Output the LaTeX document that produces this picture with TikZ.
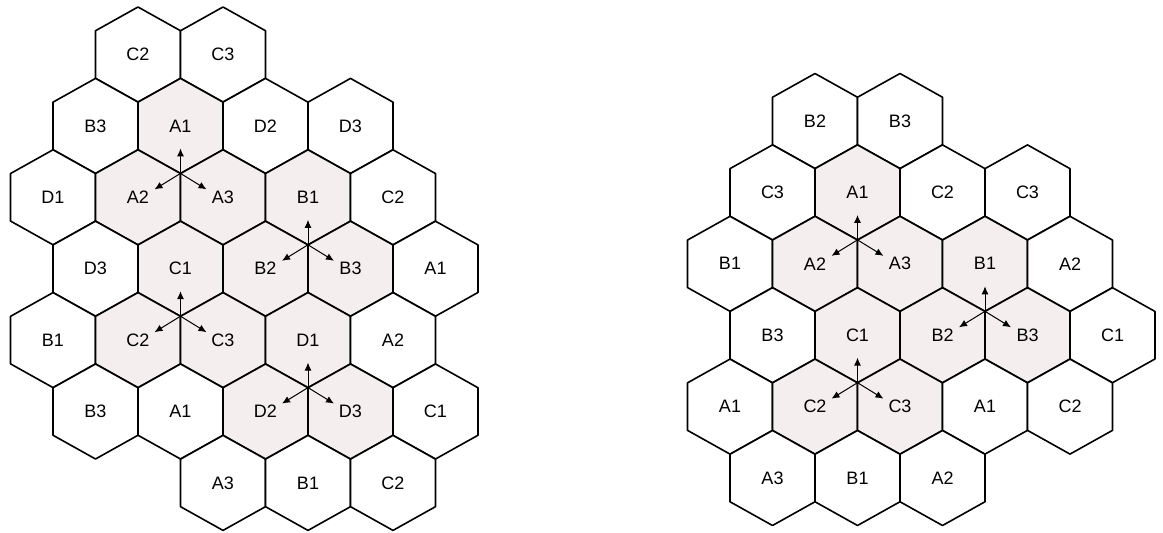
\documentclass[tikz,border=0pt]{standalone}
\usepackage{fontspec}
\setmainfont{Liberation Sans}
\usepackage{tikz}
\usetikzlibrary{arrows.meta,positioning}

\definecolor{sectorfill}{RGB}{245,238,238}

\tikzset{
  hexline/.style={line width=1.6pt, line join=round},
  celltext/.style={font=\fontsize{18}{20}\selectfont, inner sep=0pt},
  sectorarrow/.style={->, line width=1pt}
}

% one hexagonal sector: name, x, y, label, fill
\newcommand{\hexcell}[5]{%
  \filldraw[hexline, fill=#5] (#2,#3) ++(0,-47.5) -- ++(42.5,23.75) -- ++(0,47.5)
    -- ++(-42.5,23.75) -- ++(-42.5,-23.75) -- ++(0,-47.5) -- cycle;
  \node[celltext] (#1) at (#2,#3) {#4};}

% three arrows out of the shared corner of a cell
\newcommand{\sectorarrows}[1]{%
  \path (#1) ++(0,-25) coordinate (#1-up);
  \path (#1) ++(-26,16) coordinate (#1-left);
  \path (#1) ++(26,16) coordinate (#1-right);
  \draw[sectorarrow] (#1) -- (#1-up);
  \draw[sectorarrow] (#1) -- (#1-left);
  \draw[sectorarrow] (#1) -- (#1-right);}

\begin{document}
\begin{tikzpicture}[x=1pt, y=-1pt, >={Latex[length=8pt,width=7pt]}]
\useasboundingbox (0,0) rectangle (1163,533);

% left pattern
\begin{scope}[shift={(53,54.5)}]
\foreach \i/\lab/\fl in {1/C2/white,2/C3/white}
  \hexcell{L0-\i}{\i*85}{0}{\lab}{\fl};
\foreach \i/\lab/\fl in {0/B3/white,1/A1/sectorfill,2/D2/white,3/D3/white}
  \hexcell{L1-\i}{\i*85+42.5}{71.4}{\lab}{\fl};
\foreach \i/\lab/\fl in {0/D1/white,1/A2/sectorfill,2/A3/sectorfill,3/B1/sectorfill,4/C2/white}
  \hexcell{L2-\i}{\i*85}{142.8}{\lab}{\fl};
\foreach \i/\lab/\fl in {0/D3/white,1/C1/sectorfill,2/B2/sectorfill,3/B3/sectorfill,4/A1/white}
  \hexcell{L3-\i}{\i*85+42.5}{214.2}{\lab}{\fl};
\foreach \i/\lab/\fl in {0/B1/white,1/C2/sectorfill,2/C3/sectorfill,3/D1/sectorfill,4/A2/white}
  \hexcell{L4-\i}{\i*85}{285.6}{\lab}{\fl};
\foreach \i/\lab/\fl in {0/B3/white,1/A1/white,2/D2/sectorfill,3/D3/sectorfill,4/C1/white}
  \hexcell{L5-\i}{\i*85+42.5}{357}{\lab}{\fl};
\foreach \i/\lab/\fl in {2/A3/white,3/B1/white,4/C2/white}
  \hexcell{L6-\i}{\i*85}{428.4}{\lab}{\fl};

\coordinate (LA) at (127.5,118.9);
\coordinate (LB) at (255,190.3);
\coordinate (LC) at (127.5,261.7);
\coordinate (LD) at (255,333.1);
\foreach \c in {LA,LB,LC,LD}
  \sectorarrows{\c};
\end{scope}

% right pattern
\begin{scope}[shift={(730,121)}]
\foreach \i/\lab/\fl in {1/B2/white,2/B3/white}
  \hexcell{R0-\i}{\i*85}{0}{\lab}{\fl};
\foreach \i/\lab/\fl in {0/C3/white,1/A1/sectorfill,2/C2/white,3/C3/white}
  \hexcell{R1-\i}{\i*85+42.5}{71.4}{\lab}{\fl};
\foreach \i/\lab/\fl in {0/B1/white,1/A2/sectorfill,2/A3/sectorfill,3/B1/sectorfill,4/A2/white}
  \hexcell{R2-\i}{\i*85}{142.8}{\lab}{\fl};
\foreach \i/\lab/\fl in {0/B3/white,1/C1/sectorfill,2/B2/sectorfill,3/B3/sectorfill,4/C1/white}
  \hexcell{R3-\i}{\i*85+42.5}{214.2}{\lab}{\fl};
\foreach \i/\lab/\fl in {0/A1/white,1/C2/sectorfill,2/C3/sectorfill,3/A1/white,4/C2/white}
  \hexcell{R4-\i}{\i*85}{285.6}{\lab}{\fl};
\foreach \i/\lab/\fl in {0/A3/white,1/B1/white,2/A2/white}
  \hexcell{R5-\i}{\i*85+42.5}{357}{\lab}{\fl};

\coordinate (RA) at (127.5,118.9);
\coordinate (RB) at (255,190.3);
\coordinate (RC) at (127.5,261.7);
\foreach \c in {RA,RB,RC}
  \sectorarrows{\c};
\end{scope}
\end{tikzpicture}
\end{document}
